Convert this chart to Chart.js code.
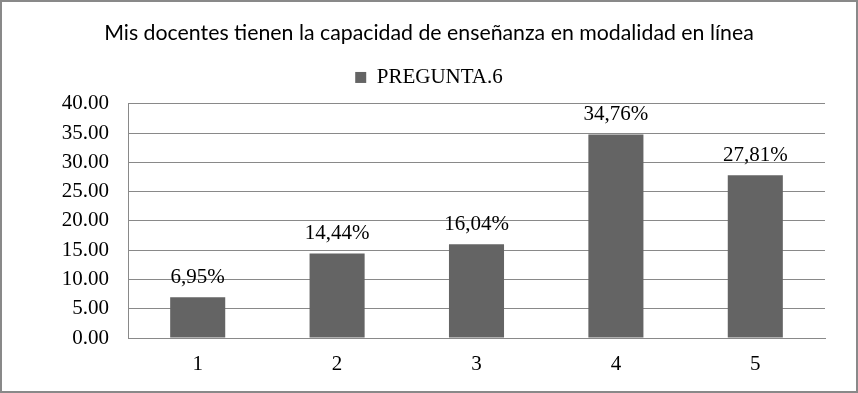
<!DOCTYPE html>
<html>
<head>
<meta charset="utf-8">
<script src="https://cdn.jsdelivr.net/npm/chart.js@4.4.1/dist/chart.umd.min.js"></script>
<style>
  html, body { margin: 0; padding: 0; background: #fff; }
</style>
</head>
<body>
<canvas id="myChart" width="858" height="393"></canvas>
<script>
const titleText = 'Mis docentes tienen la capacidad de enseñanza en modalidad en línea';
const seriesName = 'PREGUNTA.6';
const categories = ['1', '2', '3', '4', '5'];
const values = [6.95, 14.44, 16.04, 34.76, 27.81];
const valueLabels = ['6,95%', '14,44%', '16,04%', '34,76%', '27,81%'];

const serif = '"Liberation Serif", "Times New Roman", serif';
const gray = '#898989';

// outer frame of the chart
const framePlugin = {
    id: 'frame',
    afterDraw(chart) {
        const c = chart.ctx;
        c.save();
        c.strokeStyle = gray;
        c.lineWidth = 2;
        c.strokeRect(1, 1, chart.width - 2, chart.height - 2);
        c.restore();
    }
};

// value labels above the bars
const labelPlugin = {
    id: 'barLabels',
    afterDatasetsDraw(chart) {
        const c = chart.ctx;
        const meta = chart.getDatasetMeta(0);
        c.save();
        c.font = '21px ' + serif;
        c.fillStyle = '#000';
        c.textAlign = 'center';
        c.textBaseline = 'middle';
        meta.data.forEach((bar, i) => {
            c.fillText(valueLabels[i], bar.x, bar.y - 20);
        });
        c.restore();
    }
};

const ctx = document.getElementById('myChart').getContext('2d');
const myChart = new Chart(ctx, {
    type: 'bar',
    data: {
        labels: categories,
        datasets: [{
            label: seriesName,
            backgroundColor: '#646464',
            borderWidth: 0,
            barPercentage: 0.395,
            categoryPercentage: 1,
            data: values
        }]
    },
    options: {
        responsive: false,
        animation: false,
        devicePixelRatio: 1,
        layout: { padding: { left: 21, right: 21, top: 0, bottom: 0 } },
        scales: {
            x: {
                grid: { display: false, drawTicks: false },
                border: { display: true, color: gray, width: 1 },
                ticks: { color: '#000', font: { family: serif, size: 21 }, padding: 14 },
                afterFit(scale) { scale.height = 55; }
            },
            y: {
                min: 0,
                max: 40,
                ticks: {
                    stepSize: 5,
                    color: '#000',
                    font: { family: serif, size: 21 },
                    padding: 19,
                    callback: v => v.toFixed(2)
                },
                grid: { color: gray, drawTicks: false },
                border: { display: true, color: gray, width: 1 },
                afterFit(scale) { scale.width = 107; }
            },
            // empty right-hand axis, only keeps a margin on the right
            yRight: {
                position: 'right',
                grid: { display: false, drawTicks: false },
                border: { display: false },
                ticks: { display: false },
                afterFit(scale) { scale.width = 12; }
            }
        },
        plugins: {
            title: {
                display: true,
                text: titleText,
                color: '#000',
                font: { family: 'Lato', size: 21.3, weight: 'normal', lineHeight: 1.2 },
                padding: { top: 20.2, bottom: 5.2 }
            },
            // empty spacer between legend and plot area
            subtitle: {
                display: true,
                text: ' ',
                weight: 500,
                font: { size: 1, lineHeight: 1 },
                padding: { top: 0, bottom: 5 }
            },
            legend: {
                display: true,
                labels: {
                    color: '#000',
                    font: { family: serif, size: 21 },
                    boxWidth: 11,
                    boxHeight: 11,
                    padding: 16
                }
            },
            tooltip: { enabled: false }
        }
    },
    plugins: [labelPlugin, framePlugin]
});
</script>
</body>
</html>
